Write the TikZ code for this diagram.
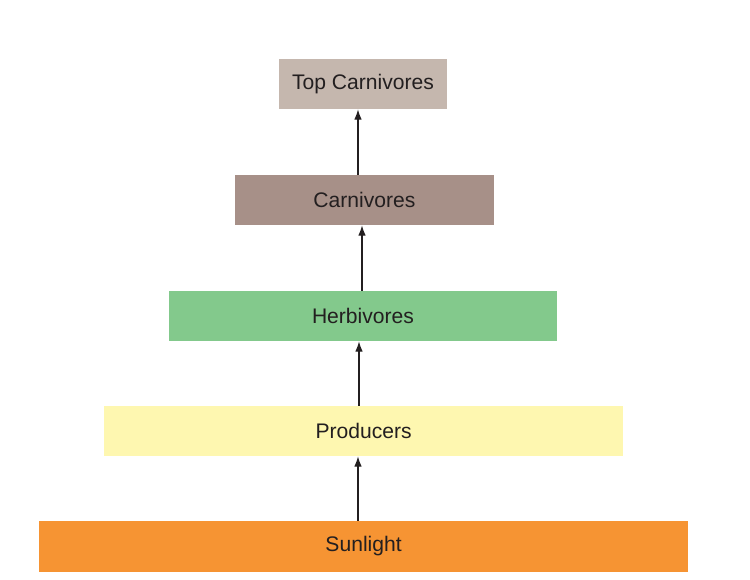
\documentclass[tikz,border=0pt]{standalone}
\usepackage{fontspec}
\setmainfont{Liberation Sans}
\usetikzlibrary{arrows.meta}
\definecolor{topc}{HTML}{C5B7AE}
\definecolor{carn}{HTML}{A79088}
\definecolor{herb}{HTML}{83C98C}
\definecolor{prod}{HTML}{FEF7B0}
\definecolor{sun}{HTML}{F69433}
\definecolor{ink}{HTML}{231F20}
\tikzset{level/.style={minimum height=1.25cm,inner sep=0pt,text=ink,font=\fontsize{15}{18}\selectfont}}
\begin{document}
\begin{tikzpicture}[>={Latex[length=2.6mm,width=1.9mm]}]
\useasboundingbox (0,0) rectangle (18.75,14.5);
\node [level,fill=sun,minimum width=16.225cm,minimum height=1.275cm] (sunlight) at (9.09,0.8375) {Sunlight};
\node [level,fill=prod,minimum width=12.975cm] (producers) at (9.09,3.725) {Producers};
\node [level,fill=herb,minimum width=9.7cm] (herbivores) at (9.075,6.6) {Herbivores};
\node [level,fill=carn,minimum width=6.475cm] (carnivores) at (9.11,9.5) {Carnivores};
\node [level,fill=topc,minimum width=4.2cm] (topcarn) at (9.075,12.4) {Top Carnivores};
\draw[->,ink,line width=0.9pt] ([xshift=-0.14cm]sunlight.north) coordinate (a1) -- (a1 |- producers.south);
\draw[->,ink,line width=0.9pt] ([xshift=-0.115cm]producers.north) coordinate (a2) -- (a2 |- herbivores.south);
\draw[->,ink,line width=0.9pt] ([xshift=-0.025cm]herbivores.north) coordinate (a3) -- (a3 |- carnivores.south);
\draw[->,ink,line width=0.9pt] ([xshift=-0.16cm]carnivores.north) coordinate (a4) -- (a4 |- topcarn.south);
\end{tikzpicture}
\end{document}
